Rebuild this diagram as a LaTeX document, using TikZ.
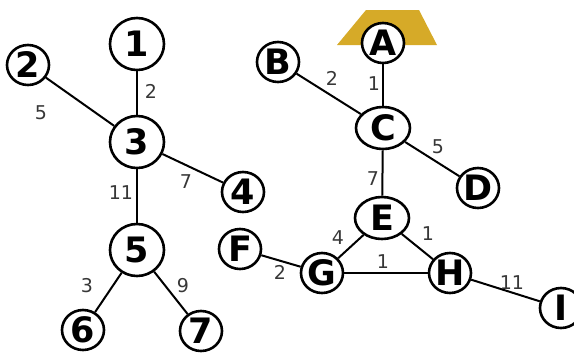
\documentclass[tikz,border=0pt]{standalone}
\usepackage{fontspec}
\setmainfont{DejaVu Sans}
\usetikzlibrary{shapes.geometric}
\definecolor{gold}{RGB}{214,170,40}
\definecolor{wgray}{RGB}{55,55,55}
\tikzset{
  vtx/.style={ellipse, draw, line width=2.6pt, fill=white, inner sep=0pt,
    font=\fontsize{35}{35}\selectfont\bfseries},
  big/.style={vtx, minimum width=54pt, minimum height=52pt},
  sml/.style={vtx, minimum width=42pt, minimum height=40pt},
  wide/.style={vtx, minimum width=54pt, minimum height=42pt},
  edg/.style={line width=2pt},
  wt/.style={text=wgray, font=\fontsize{19}{19}\selectfont, inner sep=0pt}
}
\begin{document}
\begin{tikzpicture}[x=1pt,y=-1pt]
\useasboundingbox (0,0) rectangle (574,354);
\fill[gold] (366,10) -- (419,10) -- (437,45) -- (337,45) -- cycle;
% left graph
\node[big] (n1) at (137,44) {1};
\node[sml] (n2) at (28,65) {2};
\node[big] (n3) at (137,142) {3};
\node[sml] (n4) at (243,192) {4};
\node[big] (n5) at (137,250) {5};
\node[sml] (n6) at (83,330) {6};
\node[sml] (n7) at (201,331) {7};
\draw[edg] (n1) -- (n3);
\draw[edg] (n2) -- (n3);
\draw[edg] (n3) -- (n4);
\draw[edg] (n3) -- (n5);
\draw[edg] (n5) -- (n6);
\draw[edg] (n5) -- (n7);
\node[wt] (w13) at (151,91) {2};
\node[wt] (w23) at (41,113) {5};
\node[wt] (w34) at (186,182) {7};
\node[wt] (w35) at (121,193) {11};
\node[wt] (w56) at (87,286) {3};
\node[wt] (w57) at (183,286) {9};
% right graph
\node[sml] (A) at (383,43) {A};
\node[sml] (B) at (278,62) {B};
\node[wide] (C) at (383,128) {C};
\node[sml] (D) at (478,188) {D};
\node[wide] (E) at (382,218) {E};
\node[sml] (F) at (240,249) {F};
\node[sml] (G) at (322,273) {G};
\node[sml] (H) at (450,273) {H};
\node[sml] (I) at (561,308) {I};
\draw[edg] (A) -- (C);
\draw[edg] (B) -- (C);
\draw[edg] (C) -- (D);
\draw[edg] (C) -- (E);
\draw[edg] (E) -- (G);
\draw[edg] (E) -- (H);
\draw[edg] (G) -- (H);
\draw[edg] (F) -- (G);
\draw[edg] (H) -- (I);
\node[wt] (wAC) at (374,84) {1};
\node[wt] (wBC) at (332,78) {2};
\node[wt] (wCD) at (438,147) {5};
\node[wt] (wCE) at (373,179) {7};
\node[wt] (wEG) at (338,238) {4};
\node[wt] (wEH) at (428,234) {1};
\node[wt] (wGH) at (383,262) {1};
\node[wt] (wFG) at (280,272) {2};
\node[wt] (wHI) at (512,283) {11};
\end{tikzpicture}
\end{document}
